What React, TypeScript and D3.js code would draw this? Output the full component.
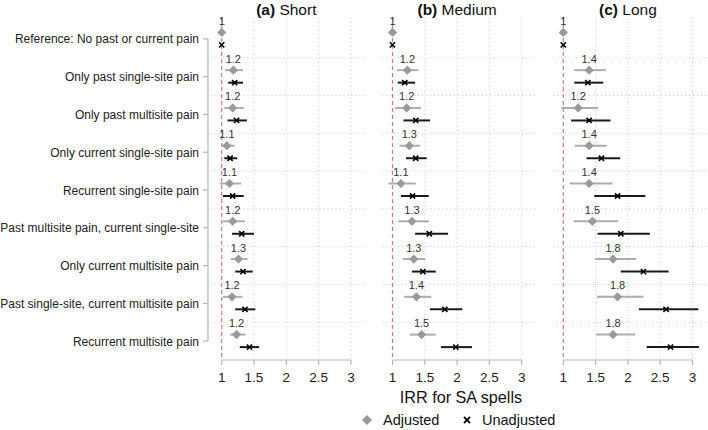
import { scaleBand, scaleLinear } from "d3";

const categories = [
  "Reference: No past or current pain",
  "Only past single-site pain",
  "Only past multisite pain",
  "Only current single-site pain",
  "Recurrent single-site pain",
  "Past multisite pain, current single-site",
  "Only current multisite pain",
  "Past single-site, current multisite pain",
  "Recurrent multisite pain",
];

const panelLetters = ["(a)", "(b)", "(c)"];
const panelNames = ["Short", "Medium", "Long"];
const xTicks = [1, 1.5, 2, 2.5, 3];

// [estimate, lower, upper]
const shortAdjusted = [
  [1, 1, 1], [1.18, 1.05, 1.33], [1.17, 1.04, 1.34], [1.08, 0.99, 1.2], [1.12, 0.97, 1.3],
  [1.17, 1.02, 1.36], [1.26, 1.14, 1.4], [1.16, 1.02, 1.32], [1.23, 1.13, 1.37],
];
const shortUnadjusted = [
  [1, 1, 1], [1.2, 1.1, 1.33], [1.23, 1.09, 1.39], [1.13, 1.04, 1.24], [1.17, 1.02, 1.34],
  [1.31, 1.16, 1.5], [1.33, 1.21, 1.48], [1.36, 1.21, 1.52], [1.43, 1.28, 1.58],
];
const shortLabels = ["1", "1.2", "1.2", "1.1", "1.1", "1.2", "1.3", "1.2", "1.2"];

const mediumAdjusted = [
  [1, 1, 1], [1.23, 1.07, 1.4], [1.22, 1.04, 1.44], [1.26, 1.11, 1.43], [1.13, 0.94, 1.36],
  [1.3, 1.09, 1.56], [1.33, 1.16, 1.51], [1.37, 1.18, 1.6], [1.45, 1.27, 1.67],
];
const mediumUnadjusted = [
  [1, 1, 1], [1.19, 1.08, 1.35], [1.36, 1.17, 1.58], [1.36, 1.21, 1.53], [1.31, 1.13, 1.56],
  [1.57, 1.35, 1.86], [1.47, 1.3, 1.67], [1.81, 1.58, 2.08], [1.98, 1.75, 2.23],
];
const mediumLabels = ["1", "1.2", "1.2", "1.3", "1.1", "1.3", "1.3", "1.4", "1.5"];

const longAdjusted = [
  [1, 1, 1], [1.4, 1.17, 1.66], [1.23, 0.97, 1.54], [1.4, 1.18, 1.67], [1.4, 1.1, 1.76],
  [1.45, 1.16, 1.85], [1.77, 1.49, 2.13], [1.84, 1.52, 2.24], [1.77, 1.51, 2.11],
];
const longUnadjusted = [
  [1, 1, 1], [1.38, 1.17, 1.62], [1.4, 1.12, 1.73], [1.59, 1.36, 1.88], [1.84, 1.48, 2.27],
  [1.89, 1.53, 2.34], [2.24, 1.89, 2.63], [2.59, 2.17, 3.09], [2.66, 2.29, 3.1],
];
const longLabels = ["1", "1.4", "1.2", "1.4", "1.4", "1.5", "1.8", "1.8", "1.8"];

const panels = [
  { adjusted: shortAdjusted, unadjusted: shortUnadjusted, labels: shortLabels },
  { adjusted: mediumAdjusted, unadjusted: mediumUnadjusted, labels: mediumLabels },
  { adjusted: longAdjusted, unadjusted: longUnadjusted, labels: longLabels },
];

const font = "'Liberation Sans', Arial, sans-serif";

function diamond(cx: number, cy: number, r: number) {
  return `M${cx},${cy - r}L${cx + r},${cy}L${cx},${cy + r}L${cx - r},${cy}Z`;
}

function cross(cx: number, cy: number, r: number) {
  return `M${cx - r},${cy - r}L${cx + r},${cy + r}M${cx - r},${cy + r}L${cx + r},${cy - r}`;
}

export default function App() {
  const width = 708;
  const height = 430;
  const plotTop = 20;
  const plotBottom = 360;
  const firstLeft = 221.7;
  const panelStep = 170.8;
  const unitWidth = 64.6;
  const yAxisX = 208;

  const y = scaleBand().domain(categories).range([plotTop, plotBottom]).padding(0);
  const center = (c: string) => (y(c) ?? 0) + y.bandwidth() / 2;

  return (
    <svg
      width={width}
      height={height}
      style={{ position: "absolute", left: 0, top: 0, background: "#fff" }}
      fontFamily={font}
    >
      {/* y axis, first panel only */}
      <line
        x1={yAxisX}
        x2={yAxisX}
        y1={center(categories[0])}
        y2={center(categories[categories.length - 1])}
        stroke="#b5b5b5"
        strokeWidth="1.2"
      />
      {categories.map((c) => (
        <g key={c}>
          <line x1={yAxisX - 5} x2={yAxisX} y1={center(c)} y2={center(c)} stroke="#b5b5b5" strokeWidth="1.2" />
          <text x={yAxisX - 9} y={center(c) + 4.5} textAnchor="end" fontSize="12" fill="#222">
            {c}
          </text>
        </g>
      ))}

      {panels.map((panel, pi) => {
        const left = firstLeft + pi * panelStep;
        const x = scaleLinear().domain([1, 3]).range([left, left + 2 * unitWidth]);
        return (
          <g key={pi}>
            <text x={x(2)} y={15} textAnchor="middle" fontSize="15.5" fill="#111">
              <tspan fontWeight="bold">{panelLetters[pi]}</tspan> {panelNames[pi]}
            </text>

            {/* horizontal grid at band edges */}
            {categories.slice(1).map((c) => (
              <line
                key={c}
                x1={x(0.84)}
                x2={x(3.24)}
                y1={y(c) ?? 0}
                y2={y(c) ?? 0}
                stroke="#c8c8c8"
                strokeWidth="1"
                strokeDasharray="1 3"
              />
            ))}
            {/* vertical grid */}
            {xTicks.slice(1).map((t) => (
              <line
                key={t}
                x1={x(t)}
                x2={x(t)}
                y1={18}
                y2={plotBottom}
                stroke="#c8c8c8"
                strokeWidth="1"
                strokeDasharray="1 3"
              />
            ))}
            {/* reference line */}
            <line
              x1={x(1)}
              x2={x(1)}
              y1={17}
              y2={plotBottom}
              stroke="#c9789b"
              strokeWidth="1.2"
              strokeDasharray="4 3"
            />

            {/* x axis */}
            <line x1={x(1)} x2={x(3)} y1={plotBottom} y2={plotBottom} stroke="#b5b5b5" strokeWidth="1.2" />
            {xTicks.map((t) => (
              <g key={t}>
                <line x1={x(t)} x2={x(t)} y1={plotBottom} y2={plotBottom + 5} stroke="#b5b5b5" strokeWidth="1.2" />
                <text x={x(t)} y={plotBottom + 22} textAnchor="middle" fontSize="13.5" fill="#222">
                  {t}
                </text>
              </g>
            ))}

            {categories.map((c, ci) => {
              const cy = center(c);
              const [aEst, aLo, aHi] = panel.adjusted[ci];
              const [uEst, uLo, uHi] = panel.unadjusted[ci];
              const dy = cy - 6.5;
              const uy = cy + 6;
              return (
                <g key={c}>
                  <text x={x(aEst)} y={cy - 14} textAnchor="middle" fontSize="11" fill="#333">
                    {panel.labels[ci]}
                  </text>
                  <line x1={x(aLo)} x2={x(aHi)} y1={dy} y2={dy} stroke="#adadad" strokeWidth="2" />
                  <path d={diamond(x(aEst), dy, 4.6)} fill="#9a9a9a" />
                  <line x1={x(uLo)} x2={x(uHi)} y1={uy} y2={uy} stroke="#1a1a1a" strokeWidth="2" />
                  <path d={cross(x(uEst), uy, 2.6)} stroke="#000" strokeWidth="1.6" fill="none" />
                </g>
              );
            })}
          </g>
        );
      })}

      <text x={461} y={403} textAnchor="middle" fontSize="16.2" fill="#111">
        IRR for SA spells
      </text>

      {/* legend */}
      <path d={diamond(367, 420, 5)} fill="#9a9a9a" />
      <text x={383} y={425} fontSize="14.5" fill="#111">
        Adjusted
      </text>
      <path d={cross(467, 420, 3)} stroke="#000" strokeWidth="1.8" fill="none" />
      <text x={482} y={425} fontSize="14.5" fill="#111">
        Unadjusted
      </text>
    </svg>
  );
}
